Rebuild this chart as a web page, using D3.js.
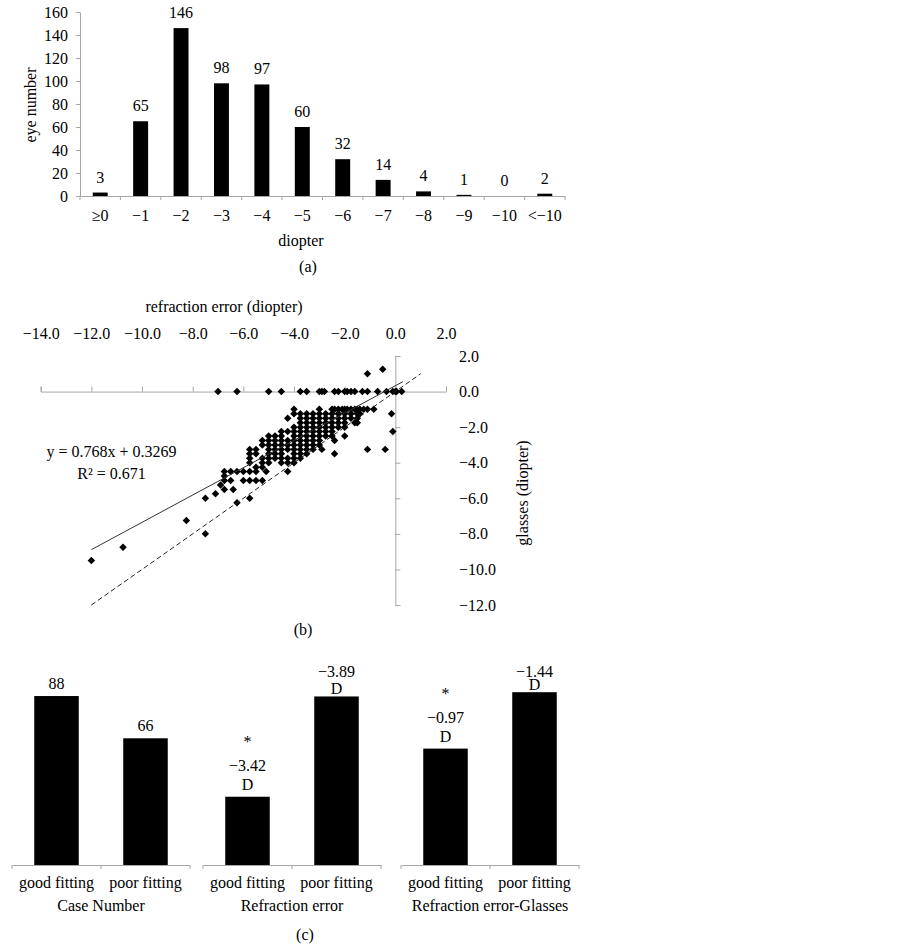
<!DOCTYPE html>
<html>
<head>
<meta charset="utf-8">
<script src="https://cdnjs.cloudflare.com/ajax/libs/d3/7.8.5/d3.min.js"></script>
<style>
body { margin: 0; background: #fff; }
svg text { font-family: "Liberation Serif", "Times New Roman", serif; font-size: 16px; fill: #000; }
</style>
</head>
<body>
<svg id="chart" width="903" height="949"></svg>
<script>

// (a) eyes per diopter group
const diopterCats = ['≥0', '−1', '−2', '−3', '−4', '−5', '−6', '−7', '−8', '−9', '−10', '<−10']
const eyeCounts = [3, 65, 146, 98, 97, 60, 32, 14, 4, 1, 0, 2]
const countTicks = [0, 20, 40, 60, 80, 100, 120, 140, 160]

// (b) refraction error vs glasses, [refraction, glasses]
const refractionTicks = [-14, -12, -10, -8, -6, -4, -2, 0, 2]
const glassesTicks = [-12, -10, -8, -6, -4, -2, 0, 2]
const scatterPoints = [
    [-0.5, 1.25], [-1.1, 1.0],
    [-7, 0], [-6.25, 0], [-5, 0], [-4.5, 0], [-3.75, 0], [-3.5, 0], [-3, 0], [-2.9, 0], [-2.8, 0],
    [-2.4, 0], [-2.25, 0], [-2, 0], [-1.9, 0], [-1.75, 0], [-1.6, 0], [-1.3, 0], [-1.1, 0], [-0.7, 0],
    [-0.35, 0], [-0.1, 0], [0, 0], [0.05, 0], [0.25, 0],
    [-4, -1], [-3, -1], [-2.5, -1], [-2.4, -1], [-2.25, -1], [-2.1, -1], [-2, -1], [-1.9, -1], [-1.75, -1],
    [-1.6, -1], [-1.5, -1], [-1.4, -1], [-1.25, -1], [-1.1, -1], [-0.85, -1],
    [-4, -1.25], [-3.75, -1.25], [-3.5, -1.25], [-3.25, -1.25], [-3, -1.25], [-2.75, -1.25], [-2.5, -1.25],
    [-2.25, -1.25], [-2, -1.25], [-1.75, -1.25], [-1.5, -1.25], [-1.4, -1.25], [-0.15, -1.25],
    [-4.25, -1.5], [-3.75, -1.5], [-3.5, -1.5], [-3.25, -1.5], [-3, -1.5], [-2.75, -1.5], [-2.5, -1.5],
    [-2.25, -1.5], [-2, -1.5], [-1.75, -1.5], [-1.5, -1.5],
    [-3.75, -1.75], [-3.5, -1.75], [-3.25, -1.75], [-3, -1.75], [-2.75, -1.75], [-2.5, -1.75], [-2.25, -1.75],
    [-2, -1.75], [-1.6, -1.75], [-1.5, -1.75],
    [-4, -2], [-3.75, -2], [-3.5, -2], [-3.25, -2], [-3, -2], [-2.75, -2], [-2.5, -2], [-2.25, -2], [-2, -2],
    [-4.5, -2.25], [-4.25, -2.25], [-4, -2.25], [-3.75, -2.25], [-3.5, -2.25], [-3.25, -2.25], [-3, -2.25],
    [-2.75, -2.25], [-2.5, -2.25], [-0.1, -2.25],
    [-5, -2.5], [-4.75, -2.5], [-4.5, -2.5], [-4, -2.5], [-3.75, -2.5], [-3.5, -2.5], [-3.25, -2.5], [-3, -2.5],
    [-2.75, -2.5], [-2.5, -2.5], [-2, -2.5],
    [-5.25, -2.75], [-5, -2.75], [-4.75, -2.75], [-4.5, -2.75], [-4.25, -2.75], [-4, -2.75], [-3.75, -2.75],
    [-3.5, -2.75], [-3.25, -2.75], [-3, -2.75], [-2.4, -2.75],
    [-5.25, -3], [-5, -3], [-4.75, -3], [-4.5, -3], [-4.25, -3], [-4, -3], [-3.75, -3], [-3.5, -3], [-3.25, -3], [-3, -3],
    [-5.75, -3.25], [-5.5, -3.25], [-5, -3.25], [-4.75, -3.25], [-4.5, -3.25], [-4.25, -3.25], [-4, -3.25],
    [-3.75, -3.25], [-3.5, -3.25], [-3.25, -3.25], [-2.9, -3.25], [-1.1, -3.25], [-0.4, -3.25],
    [-5.75, -3.5], [-5.5, -3.5], [-5, -3.5], [-4.75, -3.5], [-4.5, -3.5], [-4, -3.5], [-3.75, -3.5], [-3.5, -3.5], [-2.4, -3.5],
    [-5.75, -3.75], [-5.25, -3.75], [-5, -3.75], [-4.75, -3.75], [-4.5, -3.75], [-4.25, -3.75], [-4, -3.75], [-3.75, -3.75],
    [-5.75, -4], [-5.25, -4], [-5, -4], [-4.5, -4], [-4.25, -4], [-4, -4],
    [-5.5, -4.25], [-5.25, -4.25],
    [-6.75, -4.5], [-6.5, -4.5], [-6.25, -4.5], [-6, -4.5], [-5.75, -4.5], [-5.5, -4.5], [-5.1, -4.5], [-4.25, -4.5],
    [-6.75, -4.75],
    [-6.75, -5], [-6.5, -5], [-6, -5], [-5.75, -5], [-5.5, -5], [-5.25, -5],
    [-6.9, -5.25], [-6.75, -5.5], [-6.4, -5.5], [-7.1, -5.75], [-7.5, -6], [-5.75, -6], [-6.25, -6.25],
    [-8.25, -7.25], [-7.5, -8], [-10.75, -8.75], [-12, -9.5]
]
const fitSlope = 0.768
const fitIntercept = 0.3269
const fitRange = [-12, 0.3]
const identityRange = [-12, 1]

// (c) good vs poor fitting
const fittingCats = ['good fitting', 'poor fitting']
const caseNumbers = [88, 66]
const refractionMeans = [-3.42, -3.89]
const glassesDiffMeans = [-0.97, -1.44]
const groupTitles = ['Case Number', 'Refraction error', 'Refraction error-Glasses']

const axisColor = '#a6a6a6'
const svg = d3.select('#chart')

function greyAxis(g) {
    g.selectAll('path.domain, .tick line').attr('stroke', axisColor)
}

// ---------- (a)
const xA = d3.scaleBand().domain(diopterCats).range([80, 565]).paddingInner(0.63).paddingOuter(0.315)
const yA = d3.scaleLinear().domain([0, 160]).range([196, 12])
const gA = svg.append('g')

gA.append('g')
    .attr('transform', 'translate(80,0)')
    .call(d3.axisLeft(yA).tickValues(countTicks).tickSize(4).tickSizeOuter(0).tickPadding(8))
    .call(greyAxis)

gA.append('g')
    .attr('transform', 'translate(0,196)')
    .call(d3.axisBottom(xA).tickSize(0).tickPadding(14))
    .call(greyAxis)

gA.selectAll('line.sep')
    .data(d3.range(diopterCats.length + 1))
    .join('line')
    .attr('x1', i => xA.range()[0] + i * xA.step())
    .attr('x2', i => xA.range()[0] + i * xA.step())
    .attr('y1', 196).attr('y2', 200)
    .attr('stroke', axisColor)

gA.selectAll('rect')
    .data(eyeCounts)
    .join('rect')
    .attr('x', (d, i) => xA(diopterCats[i]))
    .attr('y', d => yA(d))
    .attr('width', xA.bandwidth())
    .attr('height', d => yA(0) - yA(d))
    .attr('fill', '#000')

gA.selectAll('text.val')
    .data(eyeCounts)
    .join('text')
    .attr('class', 'val')
    .attr('x', (d, i) => xA(diopterCats[i]) + xA.bandwidth() / 2)
    .attr('y', d => yA(d) - 10)
    .attr('text-anchor', 'middle')
    .text(d => d)

gA.append('text').attr('x', 301).attr('y', 246).attr('text-anchor', 'middle').text('diopter')
gA.append('text').attr('x', 308).attr('y', 271.5).attr('text-anchor', 'middle').text('(a)')
gA.append('text')
    .attr('transform', 'translate(36,105) rotate(-90)')
    .attr('text-anchor', 'middle')
    .text('eye number')

// ---------- (b)
const xB = d3.scaleLinear().domain([-14, 2]).range([40.7, 446])
const yB = d3.scaleLinear().domain([-12, 2]).range([605, 356])
const gB = svg.append('g')
const fmt1 = d3.format('.1f')

gB.append('g')
    .attr('transform', 'translate(0,' + yB(0) + ')')
    .call(d3.axisTop(xB).tickValues(refractionTicks).tickFormat(fmt1).tickSize(5).tickPadding(yB(0) - 338.5 - 5))
    .call(greyAxis)

gB.append('g')
    .attr('transform', 'translate(' + xB(0) + ',0)')
    .call(d3.axisRight(yB).tickValues(glassesTicks).tickFormat(fmt1).tickSize(5).tickPadding(459 - xB(0) - 5))
    .call(greyAxis)

gB.selectAll('path.pt')
    .data(scatterPoints)
    .join('path')
    .attr('class', 'pt')
    .attr('d', d3.symbol(d3.symbolSquare, 28))
    .attr('transform', d => 'translate(' + xB(d[0]) + ',' + yB(d[1]) + ') rotate(45)')
    .attr('fill', '#000')

gB.append('path')
    .datum(fitRange)
    .attr('d', d3.line().x(d => xB(d)).y(d => yB(fitSlope * d + fitIntercept)))
    .attr('stroke', '#333').attr('stroke-width', 1).attr('fill', 'none')

gB.append('path')
    .datum(identityRange)
    .attr('d', d3.line().x(d => xB(d)).y(d => yB(d)))
    .attr('stroke', '#222').attr('stroke-width', 1).attr('stroke-dasharray', '5,3').attr('fill', 'none')

gB.append('text').attr('x', 224).attr('y', 312).attr('text-anchor', 'middle').text('refraction error (diopter)')
gB.append('text')
    .attr('transform', 'translate(528,493) rotate(-90)')
    .attr('text-anchor', 'middle')
    .text('glasses (diopter)')
gB.append('text').attr('x', 111.5).attr('y', 457).attr('text-anchor', 'middle')
    .text('y = ' + fitSlope + 'x + ' + fitIntercept)
gB.append('text').attr('x', 111.5).attr('y', 479).attr('text-anchor', 'middle').text('R² = 0.671')
gB.append('text').attr('x', 303).attr('y', 634.5).attr('text-anchor', 'middle').text('(b)')

// ---------- (c)
const baseC = 865
const topC = 673
const groups = [
    { title: groupTitles[0], values: caseNumbers, range: [12, 190], domain: [0, 100], lines: v => [String(v)] },
    { title: groupTitles[1], values: refractionMeans, range: [203, 381], domain: [3.1, 4.0], lines: v => [d3.format('.2f')(v), 'D'], star: true },
    { title: groupTitles[2], values: glassesDiffMeans, range: [401, 579], domain: [0, 1.6], lines: v => [d3.format('.2f')(v), 'D'], star: true }
]

groups.forEach(grp => {
    const g = svg.append('g')
    const x = d3.scaleBand().domain(fittingCats).range(grp.range).paddingInner(0.5).paddingOuter(0.25)
    const y = d3.scaleLinear().domain(grp.domain).range([baseC, topC])

    g.append('g')
        .attr('transform', 'translate(0,' + baseC + ')')
        .call(d3.axisBottom(x).tickSize(0).tickPadding(11.6))
        .call(greyAxis)

    g.selectAll('line.sep')
        .data([0, 1, 2])
        .join('line')
        .attr('x1', i => grp.range[0] + i * x.step())
        .attr('x2', i => grp.range[0] + i * x.step())
        .attr('y1', baseC).attr('y2', baseC + 4)
        .attr('stroke', axisColor)

    g.selectAll('rect')
        .data(grp.values)
        .join('rect')
        .attr('x', (d, i) => x(fittingCats[i]))
        .attr('y', d => y(Math.abs(d)))
        .attr('width', x.bandwidth())
        .attr('height', d => baseC - y(Math.abs(d)))
        .attr('fill', '#000')

    grp.values.forEach((v, i) => {
        const top = y(Math.abs(v))
        const cx = x(fittingCats[i]) + x.bandwidth() / 2
        const lines = grp.lines(v)
        let last = top - 7
        let first = last - 18.5 * (lines.length - 1)
        if (first < 677) {
            last = Math.min(last + (677 - first), top - 2)
            first = 677
        }
        const step = lines.length > 1 ? (last - first) / (lines.length - 1) : 0
        lines.forEach((t, k) => {
            g.append('text').attr('x', cx).attr('y', first + k * step).attr('text-anchor', 'middle').text(t)
        })
        if (grp.star && i === 0) {
            g.append('text').attr('x', cx).attr('y', first - 24).attr('text-anchor', 'middle').text('*')
        }
    })

    g.append('text')
        .attr('x', (grp.range[0] + grp.range[1]) / 2)
        .attr('y', 911)
        .attr('text-anchor', 'middle')
        .text(grp.title)
})

svg.append('text').attr('x', 305).attr('y', 939.5).attr('text-anchor', 'middle').text('(c)')

</script>
</body>
</html>
